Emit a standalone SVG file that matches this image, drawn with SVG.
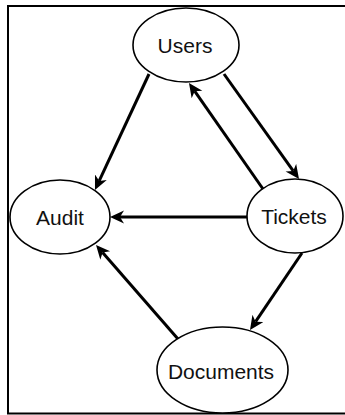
<svg xmlns="http://www.w3.org/2000/svg" width="345" height="415" viewBox="0 0 345 415">
<style>
.node ellipse{fill:#fff;stroke:#000;stroke-width:1.6}
.node text{font-family:"Liberation Sans",Arial,Helvetica,sans-serif;font-size:21px;fill:#111;text-anchor:middle}
.edge{stroke:#000;stroke-width:3;fill:none;marker-end:url(#arrow)}
</style>
<defs>
<marker id="arrow" markerUnits="userSpaceOnUse" markerWidth="20" markerHeight="20" refX="4" refY="7" orient="auto">
<path d="M0,0.5 L14,7 L0,13.5 L4,7 Z" fill="#000"/>
</marker>
</defs>
<rect width="345" height="415" fill="#fff"/>
<path d="M345,6 H8 V413.5 H345" fill="none" stroke="#000" stroke-width="2"/>
<g id="connectors">
<line class="edge" x1="149" y1="74" x2="99.2" y2="180.9"/>
<line class="edge" x1="224" y1="74" x2="293.2" y2="170.9"/>
<line class="edge" x1="263" y1="189" x2="194.7" y2="91.2"/>
<line class="edge" x1="248" y1="217" x2="120" y2="217"/>
<line class="edge" x1="178" y1="339" x2="102.6" y2="252.5"/>
<line class="edge" x1="302" y1="253" x2="255.6" y2="321.7"/>
</g>
<g id="users" class="node"><ellipse cx="186" cy="45" rx="53" ry="37"/><text x="185" y="53">Users</text></g>
<g id="audit" class="node"><ellipse cx="60" cy="217" rx="50" ry="37"/><text x="60" y="225">Audit</text></g>
<g id="tickets" class="node"><ellipse cx="295" cy="216" rx="48" ry="37"/><text x="294" y="224">Tickets</text></g>
<g id="documents" class="node"><ellipse cx="222.5" cy="370" rx="65.5" ry="43"/><text x="221" y="379">Documents</text></g>
</svg>
